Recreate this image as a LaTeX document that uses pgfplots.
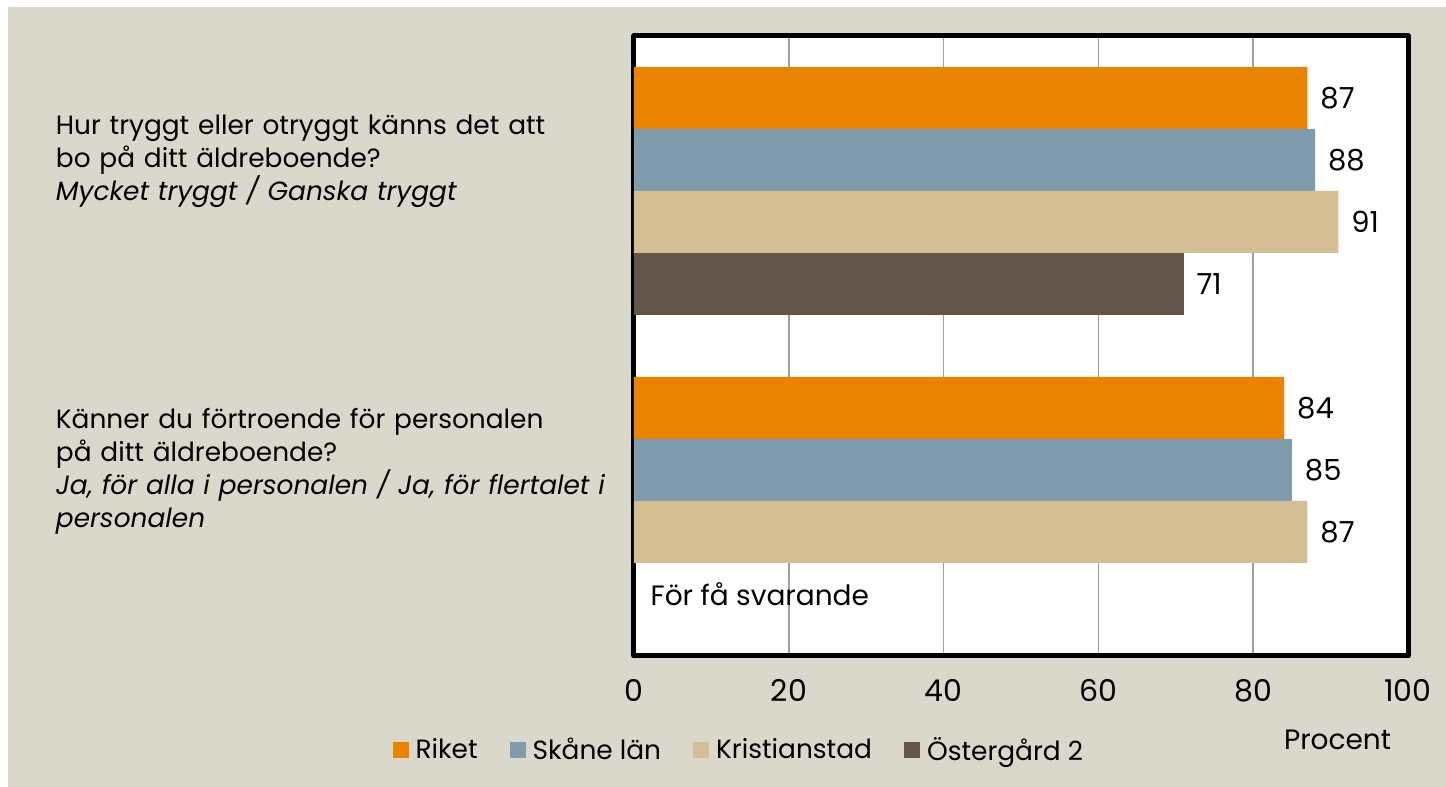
\documentclass[border=0pt]{standalone}
\usepackage{fontspec}
\setmainfont{Poppins}
\usepackage{pgfplots}
\pgfplotsset{compat=1.18}
\definecolor{bgc}{RGB}{218,215,203}
\definecolor{riket}{RGB}{233,131,0}
\definecolor{skane}{RGB}{127,155,172}
\definecolor{kristian}{RGB}{212,191,149}
\definecolor{oster}{RGB}{99,85,74}
\definecolor{gridc}{RGB}{160,160,160}
\begin{document}
\begin{tikzpicture}
\useasboundingbox (0,0) rectangle (723pt,393.5pt);
\fill[white] (0,0) rectangle (723pt,393.5pt);
\fill[bgc] (4pt,0) rectangle (723pt,390pt);
% question 1 at y=1 (top), question 2 at y=0
\begin{axis}[
  at={(317pt,65.5pt)}, anchor=south west,
  scale only axis, width=387pt, height=310pt,
  xbar, bar width=31pt,
  xmin=0, xmax=100, ymin=-0.5, ymax=1.5,
  xtick={0,20,40,60,80,100},
  ytick={0,1},
  yticklabels={{Känner du förtroende för personalen\\på ditt äldreboende?\\\textit{Ja, för alla i personalen / Ja, för flertalet i}\\\textit{personalen}},
               {Hur tryggt eller otryggt känns det att\\bo på ditt äldreboende?\\\textit{Mycket tryggt / Ganska tryggt}}},
  yticklabel style={anchor=east, text width=285.5pt, align=left, font=\fontsize{13.2}{16.5}\selectfont, yshift=15pt},
  xticklabel style={font=\fontsize{15}{18}\selectfont, yshift=-8pt},
  /pgf/number format/assume math mode=true,
  major tick length=0pt,
  xmajorgrids, grid style={gridc, line width=0.8pt},
  axis line style={line width=2.5pt, line join=round},
  axis background/.style={fill=white},
  xlabel={Procent},
  xlabel style={at={(axis description cs:0.909,-0.135)}, anchor=center, font=\fontsize{14}{17}\selectfont},
  nodes near coords,
  nodes near coords style={anchor=west, xshift=3pt, font=\fontsize{14.5}{17}\selectfont, text=black},
  legend columns=4,
  legend style={at={(axis description cs:0.136,-0.152)}, anchor=center, draw=none, fill=none,
    font=\fontsize{13.2}{16}\selectfont, nodes={inner sep=1.5pt},
    /tikz/every odd column/.append style={column sep=2pt},
    /tikz/every even column/.append style={column sep=14.5pt}},
  legend image code/.code={\fill[#1] (0pt,-4pt) rectangle (8pt,4pt);},
]
\addplot[fill=riket, draw=none, bar shift=46.5pt] coordinates {(87,1) (84,0)};
\addplot[fill=skane, draw=none, bar shift=15.5pt] coordinates {(88,1) (85,0)};
\addplot[fill=kristian, draw=none, bar shift=-15.5pt] coordinates {(91,1) (87,0)};
\addplot[fill=oster, draw=none, bar shift=-46.5pt] coordinates {(71,1)};
\legend{Riket, Skåne län, Kristianstad, Östergård 2}
\node[anchor=west, inner sep=0pt, font=\fontsize{14}{17}\selectfont] at (axis cs:2.1,-0.3) {För få svarande};
\end{axis}
\end{tikzpicture}
\end{document}
